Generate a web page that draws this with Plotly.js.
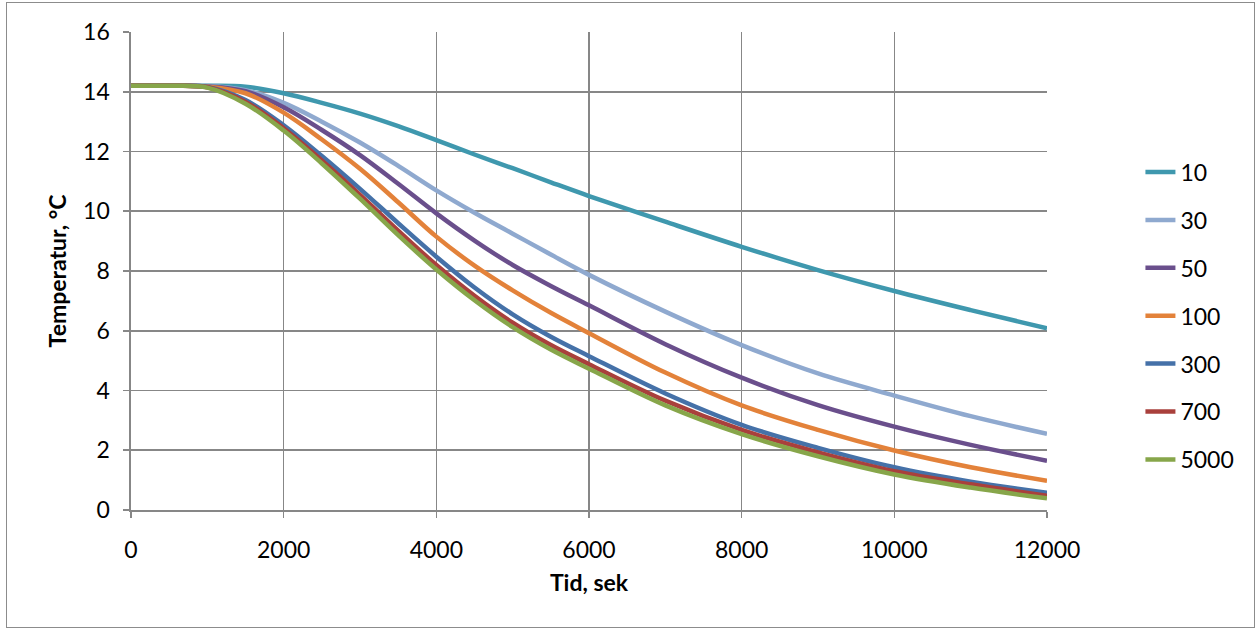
<!DOCTYPE html>
<html>
<head>
<meta charset="utf-8">
<script src="https://cdn.plot.ly/plotly-3.0.1.min.js"></script>
<style>
html,body{margin:0;padding:0;background:#fff;}
#chart{width:1257px;height:630px;position:absolute;left:0;top:0;}
#frame{position:absolute;left:6px;top:2px;width:1247px;height:624px;border:1px solid #8c8c8c;pointer-events:none;}
</style>
</head>
<body>
<div id="chart"></div>
<div id="frame"></div>
<script>
const time  = [0, 500, 1000, 1500, 2000, 2500, 3000, 3500, 4000, 4500, 5000, 5500, 6000, 7000, 8000, 9000, 10000, 11000, 12000];
const seriesNames = ["10", "30", "50", "100", "300", "700", "5000"];
const s10   = [14.2, 14.2, 14.2, 14.17, 13.95, 13.63, 13.27, 12.85, 12.38, 11.9, 11.44, 10.97, 10.51, 9.65, 8.81, 8.03, 7.33, 6.69, 6.08];
const s30   = [14.2, 14.2, 14.19, 14.05, 13.63, 13.0, 12.3, 11.52, 10.7, 9.95, 9.25, 8.55, 7.87, 6.64, 5.52, 4.57, 3.83, 3.14, 2.55];
const s50   = [14.2, 14.2, 14.18, 14.02, 13.48, 12.72, 11.88, 10.92, 9.93, 9.02, 8.2, 7.5, 6.85, 5.55, 4.43, 3.51, 2.79, 2.18, 1.65];
const s100  = [14.2, 14.2, 14.17, 13.95, 13.3, 12.4, 11.42, 10.3, 9.15, 8.18, 7.35, 6.6, 5.92, 4.6, 3.5, 2.68, 1.99, 1.43, 0.98];
const s300  = [14.2, 14.2, 14.16, 13.72, 12.88, 11.85, 10.75, 9.6, 8.48, 7.45, 6.55, 5.8, 5.15, 3.9, 2.85, 2.08, 1.43, 0.95, 0.58];
const s700  = [14.2, 14.2, 14.15, 13.66, 12.78, 11.7, 10.55, 9.35, 8.2, 7.17, 6.27, 5.52, 4.88, 3.66, 2.68, 1.93, 1.3, 0.86, 0.48];
const s5000 = [14.2, 14.2, 14.14, 13.6, 12.7, 11.6, 10.42, 9.2, 8.05, 7.02, 6.12, 5.37, 4.73, 3.5, 2.54, 1.8, 1.19, 0.75, 0.39];
const seriesValues = [s10, s30, s50, s100, s300, s700, s5000];
const colors = ["#3f98ae", "#8fa9cf", "#6a4f8c", "#e3823a", "#4571a8", "#a9403c", "#87a64a"];
const xTicks = [0, 2000, 4000, 6000, 8000, 10000, 12000];
const yTicks = [0, 2, 4, 6, 8, 10, 12, 14, 16];

const FONT = "Lato, 'Open Sans', sans-serif";
const traces = seriesNames.map((n, i) => ({
  x: time, y: seriesValues[i], name: n, type: "scatter", mode: "lines",
  line: {color: colors[i], width: 4.5, shape: "spline", smoothing: 1},
  legendgroup: "g" + i
}));
const layout = {
  width: 1257, height: 630,
  margin: {l: 131, r: 210, t: 32, b: 120},
  paper_bgcolor: "#fff", plot_bgcolor: "#fff",
  font: {family: FONT, size: 23, color: "#000"},
  showlegend: true,
  legend: {x: 1.102, y: 0.752, xanchor: "left", yanchor: "top", tracegroupgap: 15,
           font: {family: FONT, size: 23, color: "#000"}, bgcolor: "rgba(0,0,0,0)"},
  xaxis: {range: [0, 12000], tickvals: xTicks, ticktext: xTicks.map(String),
          showgrid: true, gridcolor: "#878787", gridwidth: 1.6,
          showline: true, linecolor: "#878787", linewidth: 1.6, mirror: false,
          ticks: "outside", ticklen: 6, tickcolor: "#878787", tickwidth: 1.6,
          ticklabelstandoff: 13, zeroline: false,
          title: {text: "<b>Tid, sek</b>", standoff: 12, font: {family: FONT, size: 23}}},
  yaxis: {range: [0, 16], tickvals: yTicks, ticktext: yTicks.map(String),
          showgrid: true, gridcolor: "#878787", gridwidth: 1.6,
          showline: true, linecolor: "#878787", linewidth: 1.6,
          ticks: "outside", ticklen: 6, tickcolor: "#878787", tickwidth: 1.6,
          ticklabelstandoff: 9, zeroline: false,
          title: {text: "<b>Temperatur, °C</b>", standoff: 10, font: {family: FONT, size: 23}}}
};
Plotly.newPlot("chart", traces, layout, {displayModeBar: false, staticPlot: true});
</script>
</body>
</html>
